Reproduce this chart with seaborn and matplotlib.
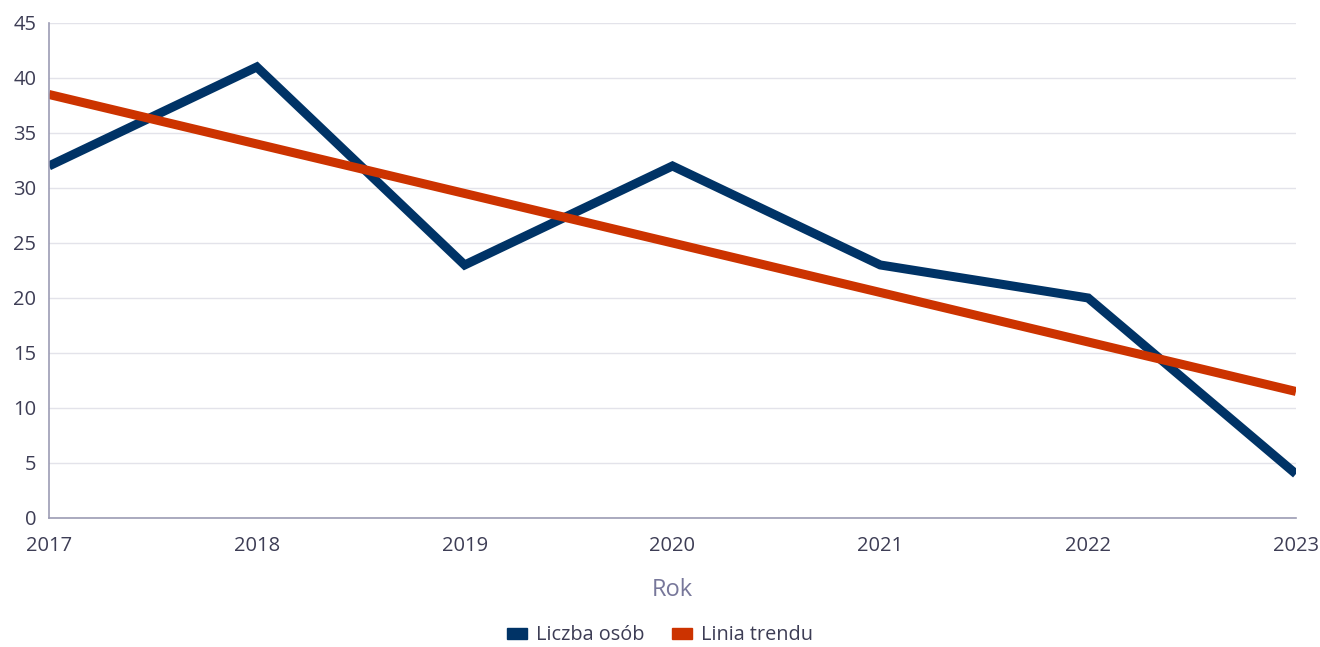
import pandas as pd
import matplotlib.pyplot as plt
import seaborn as sns
from matplotlib.patches import Patch

# chart data
years = [2017, 2018, 2019, 2020, 2021, 2022, 2023]
liczba_osob = [32, 41, 23, 32, 23, 20, 4]
linia_trendu = [38.5, 34, 29.5, 25, 20.5, 16, 11.5]
series_names = ["Liczba osób", "Linia trendu"]
colors = ["#003366", "#cc3300"]

df = pd.DataFrame({
    "Rok": years * 2,
    "value": liczba_osob + linia_trendu,
    "seria": [series_names[0]] * len(years) + [series_names[1]] * len(years),
})

sns.set_theme(style="white")
plt.rcParams['font.family'] = ['Open Sans', 'DejaVu Sans']

fig = plt.figure(figsize=(13.2, 6.47), dpi=100)
ax = fig.add_axes([0.0371, 0.1994, 0.9447, 0.7651])

sns.lineplot(data=df, x="Rok", y="value", hue="seria", palette=colors,
             linewidth=6.5, ax=ax, legend=False)
for ln in ax.get_lines():
    ln.set_solid_capstyle("butt")
    ln.set_solid_joinstyle("miter")

ax.set_xlim(2017, 2023)
ax.set_ylim(0, 45)
ax.set_xticks(years)
ax.set_yticks(range(0, 46, 5))
ax.yaxis.grid(True, color="#e3e3ea", linewidth=1)
ax.set_axisbelow(True)

for s in ["top", "right"]:
    ax.spines[s].set_visible(False)
for s in ["left", "bottom"]:
    ax.spines[s].set_color("#9c9cb4")
    ax.spines[s].set_linewidth(1.2)

ax.tick_params(axis="both", length=0, labelsize=14.5, colors="#3d3d55")
ax.tick_params(axis="x", pad=13)
ax.tick_params(axis="y", pad=9)
ax.set_xlabel("Rok", fontsize=17, color="#77779a", labelpad=16)
ax.set_ylabel("")

handles = [Patch(color=c, label=n) for c, n in zip(colors, series_names)]
fig.legend(handles=handles, loc="center", bbox_to_anchor=(0.5, 0.018),
           ncol=2, frameon=False, fontsize=14.3, handlelength=1.0,
           handleheight=0.45, handletextpad=0.45, columnspacing=1.4,
           labelcolor="#3d3d55")

plt.savefig("out.png", dpi=100)
